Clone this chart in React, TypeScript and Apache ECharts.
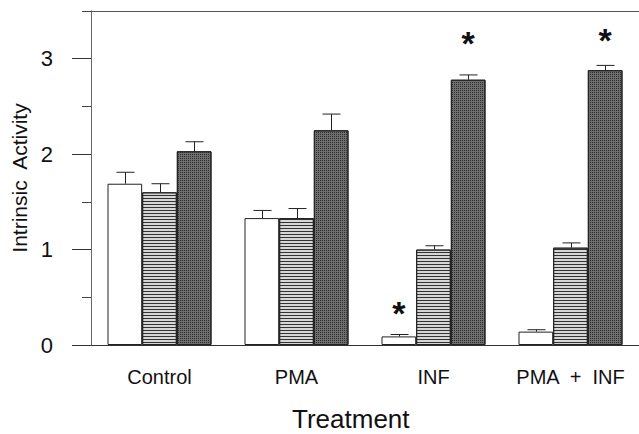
import React, { useEffect, useRef } from "react";
import * as echarts from "echarts";

const categories = ["Control", "PMA", "INF", "PMA  +  INF"];
const whiteVals = [1.69, 1.33, 0.09, 0.14];
const whiteErr = [0.12, 0.08, 0.02, 0.02];
const hatchVals = [1.6, 1.33, 1.0, 1.02];
const hatchErr = [0.09, 0.1, 0.04, 0.05];
const darkVals = [2.03, 2.25, 2.78, 2.88];
const darkErr = [0.1, 0.17, 0.05, 0.05];
// significance markers: [category index, series index, height of the star]
const stars = [
  [2, 0, 0.39],
  [2, 2, 3.22],
  [3, 2, 3.25],
];
const majorTicks = [0, 1, 2, 3];
const minorTicks = [0.5, 1.5, 2.5, 3.5];

const BAR_FRAC = 0.253;
const FONT = "Liberation Sans, Arial, sans-serif";

export default function App() {
  const ref = useRef<HTMLDivElement>(null);
  useEffect(() => {
    if (!ref.current) return;
    const chart = echarts.init(ref.current, null, { renderer: "svg" });
    const groups = [
      [whiteVals, whiteErr],
      [hatchVals, hatchErr],
      [darkVals, darkErr],
    ];
    const errData: number[][] = [];
    groups.forEach(([vals, errs], s) => {
      vals.forEach((v, c) => errData.push([c, s, v, v + errs[c]]));
    });

    const barBase = {
      type: "bar",
      barWidth: BAR_FRAC * 100 + "%",
      barGap: "0%",
      xAxisIndex: 0,
      yAxisIndex: 0,
    };

    chart.setOption({
      animation: false,
      backgroundColor: "#fff",
      grid: { left: 91, right: 0, top: 11, bottom: 89 },
      xAxis: [
        {
          type: "category",
          data: categories,
          axisLine: { onZero: false, lineStyle: { color: "#333", width: 1 } },
          axisTick: { alignWithLabel: true, length: 11, lineStyle: { color: "#333" } },
          axisLabel: { interval: 0, color: "#111", fontSize: 20, fontFamily: FONT, margin: 22 },
        },
        {
          type: "category",
          data: categories,
          position: "top",
          axisLine: { show: true, onZero: false, lineStyle: { color: "#555", width: 1 } },
          axisTick: { show: false },
          axisLabel: { show: false },
        },
      ],
      yAxis: [
        {
          type: "value",
          min: 0,
          max: 3.5,
          interval: 0.5,
          position: "left",
          splitLine: { show: false },
          axisLine: { show: true, onZero: false, lineStyle: { color: "#666", width: 1 } },
          axisTick: { show: true, length: 19, customValues: majorTicks, lineStyle: { color: "#333" } },
          axisLabel: {
            customValues: majorTicks,
            color: "#111",
            fontSize: 22,
            fontFamily: FONT,
            margin: 38,
          },
          name: "Intrinsic  Activity",
          nameLocation: "middle",
          nameGap: 57,
          nameTextStyle: { color: "#111", fontSize: 21, fontFamily: FONT },
        },
        {
          type: "value",
          min: 0,
          max: 3.5,
          interval: 0.5,
          position: "left",
          offset: 0,
          splitLine: { show: false },
          axisLine: { show: true, onZero: false, lineStyle: { color: "#666", width: 1 } },
          axisTick: { show: true, length: 9, customValues: minorTicks, lineStyle: { color: "#444" } },
          axisLabel: { show: false },
        },
      ],
      graphic: [
        {
          type: "text",
          left: 292,
          top: 406,
          style: {
            text: "Treatment",
            fontSize: 26,
            fontFamily: FONT,
            fill: "#111",
          },
        },
      ],
      series: [
        {
          ...barBase,
          name: "white",
          data: whiteVals,
          itemStyle: { color: "#ffffff", borderColor: "#222", borderWidth: 1 },
        },
        {
          ...barBase,
          name: "hatched",
          data: hatchVals,
          itemStyle: {
            color: "#d6d6d6",
            borderColor: "#222",
            borderWidth: 1,
            decal: {
              symbol: "rect",
              symbolSize: 1,
              dashArrayX: [1, 0],
              dashArrayY: [1, 2],
              rotation: 0,
              color: "#333",
            },
          },
        },
        {
          ...barBase,
          name: "dark",
          data: darkVals,
          itemStyle: {
            color: "#6e6e6e",
            borderColor: "#222",
            borderWidth: 1,
            decal: {
              symbol: "rect",
              symbolSize: 1,
              dashArrayX: [1, 1],
              dashArrayY: [1, 1],
              rotation: 0,
              color: "#2e2e2e",
            },
          },
        },
        {
          type: "custom",
          name: "errors",
          xAxisIndex: 0,
          yAxisIndex: 0,
          z: 5,
          data: errData,
          renderItem: (params: any, api: any) => {
            const c = api.value(0);
            const s = api.value(1);
            const band = api.size([1, 0])[0];
            const bw = band * BAR_FRAC;
            const top = api.coord([c, api.value(3)]);
            const base = api.coord([c, api.value(2)]);
            const x = Math.round(top[0] + (s - 1) * bw) + 0.5;
            const half = 9;
            return {
              type: "group",
              children: [
                {
                  type: "line",
                  shape: { x1: x, y1: base[1], x2: x, y2: top[1] },
                  style: { stroke: "#222", lineWidth: 1 },
                },
                {
                  type: "line",
                  shape: { x1: x - half, y1: top[1], x2: x + half, y2: top[1] },
                  style: { stroke: "#222", lineWidth: 1 },
                },
              ],
            };
          },
        },
        {
          type: "custom",
          name: "stars",
          xAxisIndex: 0,
          yAxisIndex: 0,
          z: 6,
          data: stars,
          renderItem: (params: any, api: any) => {
            const c = api.value(0);
            const s = api.value(1);
            const band = api.size([1, 0])[0];
            const bw = band * BAR_FRAC;
            const p = api.coord([c, api.value(2)]);
            return {
              type: "text",
              x: p[0] + (s - 1) * bw,
              y: p[1] - 12,
              style: {
                text: "*",
                fontSize: 34,
                fontWeight: "bold",
                fontFamily: FONT,
                fill: "#111",
                align: "center",
                verticalAlign: "top",
              },
            } as any;
          },
        },
      ],
    });
    return () => chart.dispose();
  }, []);
  return (
    <div
      ref={ref}
      style={{ position: "fixed", left: 0, top: 0, width: 639, height: 434 }}
    />
  );
}
